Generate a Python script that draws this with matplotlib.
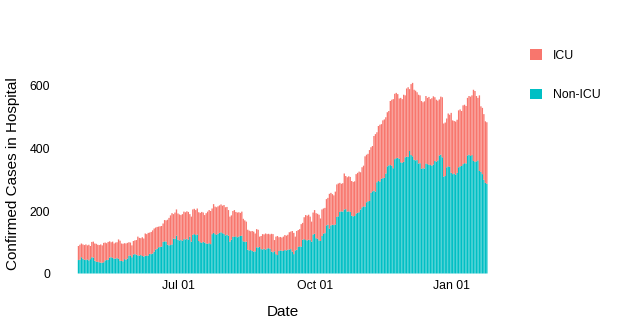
import numpy as np
import pandas as pd
import matplotlib
matplotlib.use('Agg')
import matplotlib.pyplot as plt
import matplotlib.dates as mdates

plt.rcParams['font.family'] = ['Liberation Sans', 'DejaVu Sans']

# daily hospital census, first day 2020-04-25
start_date = '2020-04-25'
total = [
  # late Apr - early Jun
  88, 92, 96, 93, 91, 93, 90, 92, 88, 101, 102, 96, 95, 92, 91, 93, 90, 98, 99, 97,
  101, 103, 100, 102, 96, 99, 100, 109, 105, 96, 95, 97, 96, 98, 100, 99, 90, 104, 106, 107,
  118, 114, 113, 116, 112,
  # Jun - Jul
  128, 126, 130, 131, 133, 138, 144, 147, 149, 150, 151, 152, 160, 171, 170, 172, 178, 186, 193, 190,
  195, 205, 192, 189, 187, 190, 198, 196, 199, 197, 190, 182, 205, 207, 203, 208, 196, 194, 197, 195,
  187, 193, 198, 203, 200, 208, 222,
  # Jul - Sep
  214, 212, 215, 218, 221, 217, 219, 212, 213, 203, 182, 186, 200, 203, 197, 195, 196, 194, 198, 175,
  170, 166, 140, 137, 135, 136, 134, 128, 142, 140, 118, 120, 126, 125, 128, 126, 127, 125, 127, 126,
  107, 118, 120, 116, 117, 115, 118,
  # Sep - Nov
  123, 121, 124, 132, 134, 136, 130, 118, 136, 139, 142, 158, 162, 180, 187, 185, 188, 182, 166, 195,
  203, 193, 191, 188, 176, 205, 208, 210, 238, 242, 255, 258, 254, 250, 262, 285, 288, 290, 287, 289,
  320, 312, 308, 311, 309, 296, 293, 295,
  # Nov - Dec
  318, 322, 326, 324, 340, 345, 375, 380, 383, 395, 404, 408, 440, 446, 452, 472, 476, 478, 490, 493,
  500, 516, 520, 552, 556, 558, 575, 578, 574, 560, 562, 558, 572, 570, 592, 596, 590, 606, 610, 588,
  585, 580, 572, 570, 552, 548, 551,
  # Dec - Jan
  568, 562, 565, 558, 561, 567, 564, 556, 553, 557, 566, 564, 480, 483, 496, 512, 508, 514, 490, 488,
  486, 492, 522, 525, 520, 538, 540, 536, 562, 568, 566, 570, 588, 584, 568, 562, 570, 535, 530, 510,
  487, 484,
]
non_icu = [
  43, 44, 52, 47, 44, 43, 45, 42, 46, 52, 51, 41, 38, 37, 36, 35, 34, 36, 42, 43,
  44, 51, 52, 50, 47, 48, 49, 47, 41, 40, 39, 46, 44, 48, 57, 58, 52, 61, 62, 60,
  58, 57, 59, 56, 54,
  57, 56, 58, 63, 62, 64, 70, 77, 79, 84, 85, 86, 101, 103, 102, 92, 90, 91, 93, 112,
  111, 121, 108, 106, 107, 105, 110, 109, 111, 108, 118, 102, 124, 126, 123, 125, 104, 100, 98, 101,
  99, 96, 95, 97, 94, 126, 130,
  126, 124, 127, 130, 132, 129, 127, 122, 124, 121, 102, 108, 118, 117, 119, 116, 118, 120, 121, 103,
  101, 102, 76, 74, 75, 72, 70, 71, 84, 83, 85, 78, 77, 79, 76, 80, 81, 79, 70, 68,
  71, 62, 59, 72, 74, 73, 72,
  75, 74, 76, 77, 78, 70, 62, 74, 76, 85, 87, 86, 108, 110, 107, 106, 108, 107, 102, 125,
  127, 113, 111, 106, 104, 120, 128, 129, 154, 156, 144, 154, 156, 155, 157, 181, 183, 197, 199, 198,
  205, 206, 198, 199, 197, 185, 183, 184,
  192, 194, 196, 205, 212, 215, 214, 228, 231, 232, 258, 263, 265, 262, 292, 296, 294, 303, 305, 306,
  320, 343, 346, 347, 345, 337, 366, 369, 370, 367, 356, 354, 357, 372, 374, 373, 392, 379, 375, 364,
  362, 363, 352, 353, 335, 337, 336,
  352, 350, 348, 347, 345, 349, 360, 358, 362, 378, 380, 372, 310, 312, 340, 343, 341, 322, 318, 320,
  316, 322, 340, 343, 344, 350, 353, 352, 378, 380, 376, 379, 360, 357, 359, 362, 328, 325, 318, 300,
  290, 287,
]
tick_dates = ['2020-07-01', '2020-10-01', '2021-01-01']
tick_labels = ['Jul 01', 'Oct 01', 'Jan 01']
y_ticks = [0, 200, 400, 600]

col_icu = '#F8766D'
col_non = '#00BFC4'

dates = pd.date_range(start_date, periods=len(total))
total = np.array(total)
non_icu = np.array(non_icu)
icu = total - non_icu

W, H = 636, 324
fig = plt.figure(figsize=(W / 100, H / 100), dpi=100)
# panel in pixels: x 57..508, y 73.5..273.5
ax = fig.add_axes([57.3 / W, (H - 273.5) / H, (508 - 57.3) / W, 200 / H])

ax.bar(dates, non_icu, width=0.9, color=col_non, linewidth=0, snap=False, label='Non-ICU')
ax.bar(dates, icu, bottom=non_icu, width=0.9, color=col_icu, linewidth=0, snap=False, label='ICU')

d0 = mdates.date2num(dates[0])
ax.set_xlim(d0 - 14.25, d0 + 289.25)
ax.set_ylim(0, 640)

ax.set_xticks(pd.to_datetime(tick_dates))
ax.set_xticklabels(tick_labels)
ax.set_yticks(y_ticks)
ax.tick_params(length=0, labelsize=8.8, pad=5, colors='black')
for s in ax.spines.values():
  s.set_visible(False)

ax.set_xlabel('Date', fontsize=11, labelpad=9)
ax.set_ylabel('Confirmed Cases in Hospital', fontsize=11, labelpad=7)

h, l = ax.get_legend_handles_labels()
fig.legend(h[::-1], l[::-1], loc='upper left', bbox_to_anchor=(519 / W, 1 - 38 / H),
           frameon=False, fontsize=8.8, handlelength=1.0, handleheight=1.0,
           labelspacing=2.2, handletextpad=0.9)

fig.savefig('out.png', dpi=100)
